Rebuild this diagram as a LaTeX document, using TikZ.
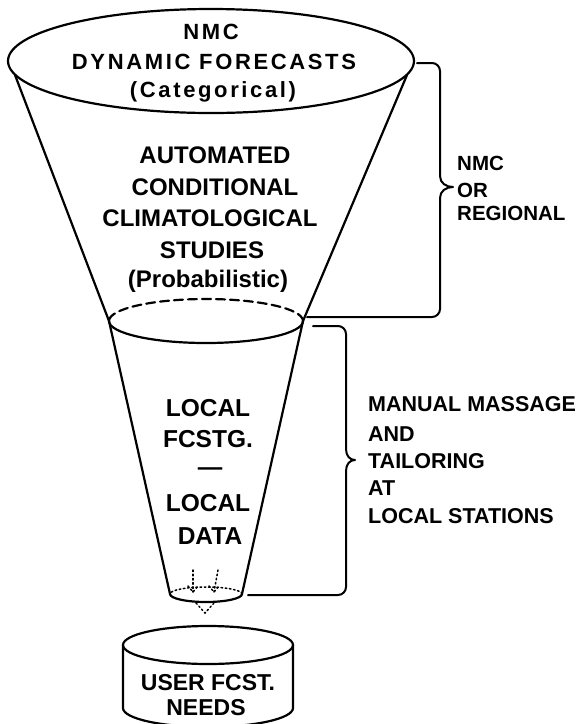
\documentclass[tikz,border=0pt]{standalone}
\usepackage{fontspec}
\setmainfont{Liberation Sans}
\begin{document}
\begin{tikzpicture}[x=1pt,y=1pt,
  outline/.style={line width=2.2pt, line join=round, line cap=round},
  brace/.style={line width=2pt, line join=round, line cap=round},
  dots/.style={line width=1.5pt, dash pattern=on 1.6pt off 2.6pt, line cap=round},
  toptext/.style={font=\bfseries\fontsize{22}{29}\selectfont\addfontfeature{LetterSpace=12}, inner sep=0pt, anchor=base},
  funtext/.style={font=\bfseries\fontsize{24}{31}\selectfont, inner sep=0pt, anchor=base},
  lowtext/.style={font=\bfseries\fontsize{24.5}{31}\selectfont, inner sep=0pt, anchor=base},
  sidetext/.style={font=\bfseries\fontsize{#1}{#1}\selectfont, inner sep=0pt, anchor=base west},
  cyltext/.style={font=\bfseries\fontsize{23}{25}\selectfont, inner sep=0pt, anchor=base}]
\useasboundingbox (0,0) rectangle (582,-724);

% funnel geometry
\coordinate (tl) at (15,-75);
\coordinate (tr) at (407,-75);
\coordinate (ml) at (109,-321);
\coordinate (mr) at (303,-321);
\coordinate (bl) at (170,-594);
\coordinate (br) at (242,-594);

% top ellipse
\draw[outline] (211,-61) ellipse [x radius=203, y radius=52];
% cone sides
\draw[outline] (tl) -- (ml) -- (bl);
\draw[outline] (tr) -- (mr) -- (br);
% middle ellipse
\draw[outline, dash pattern=on 9pt off 5pt] (mr) arc [start angle=0, end angle=180, x radius=97, y radius=22];
\draw[outline] (ml) arc [start angle=180, end angle=360, x radius=97, y radius=22];
% small ellipse
\draw[dots] (br) arc [start angle=0, end angle=180, x radius=36, y radius=7];
\draw[outline] (bl) arc [start angle=180, end angle=360, x radius=36, y radius=8];

% dotted flow marks
\coordinate (d1a) at (193,-570);
\coordinate (d1b) at (193,-592);
\coordinate (d2a) at (218,-570);
\coordinate (d2b) at (214,-592);
\draw[dots] (d1a) -- (d1b);
\draw[dots] (188,-586) -- (d1b) -- (198,-586);
\draw[dots] (d2a) -- (d2b);
\draw[dots] (209,-586) -- (d2b) -- (219,-586);
\coordinate (vtip) at (205,-613);
\draw[dots] (196,-603) -- (vtip) -- (214,-603);

% cylinder
\draw[outline] (208,-645) ellipse [x radius=85, y radius=19];
\draw[outline] (123,-645) -- (123,-708) arc [start angle=180, end angle=360, x radius=85, y radius=19] -- (293,-645);

% braces
\coordinate (b1s) at (417,-63);
\coordinate (b1tip) at (453,-187);
\coordinate (b1e) at (307,-317);
\draw[brace] (b1s) -- (432,-63) to[out=0,in=90] (440,-71) -- (440,-176)
  .. controls (440,-183) and (446,-187) .. (b1tip)
  .. controls (446,-187) and (440,-191) .. (440,-198)
  -- (440,-309) to[out=-90,in=0] (432,-317) -- (b1e);
\coordinate (b2s) at (313,-326);
\coordinate (b2tip) at (355,-460);
\coordinate (b2e) at (248,-595);
\draw[brace] (b2s) -- (338,-326) to[out=0,in=90] (346,-334) -- (346,-449)
  .. controls (346,-456) and (350,-460) .. (b2tip)
  .. controls (350,-460) and (346,-464) .. (346,-471)
  -- (346,-587) to[out=-90,in=0] (338,-595) -- (b2e);

% top ellipse text
\node[toptext] (t1) at (211,-39) {NMC};
\node[toptext] (t2) at (214,-69) {DYNAMIC FORECASTS};
\node[toptext] (t3) at (213,-97) {(Categorical)};

% upper funnel text
\node[funtext] (u1) at (215,-163.6) {AUTOMATED};
\node[funtext] (u2) at (215,-195.6) {CONDITIONAL};
\node[funtext] (u3) at (210,-226.6) {CLIMATOLOGICAL};
\node[funtext] (u4) at (212,-258.6) {STUDIES};
\node[funtext] (u5) at (208,-287) {(Probabilistic)};

% lower funnel text
\node[lowtext] (l1) at (208,-416) {LOCAL};
\node[lowtext] (l2) at (208,-447) {FCSTG.};
\node[lowtext] (l3) at (210,-475) {—};
\node[lowtext] (l4) at (208,-511) {LOCAL};
\node[lowtext] (l5) at (210,-544) {DATA};

% side labels
\node[sidetext=20.5] (s1) at (457,-170.5) {NMC};
\node[sidetext=20.5] (s2) at (457,-197.5) {OR};
\node[sidetext=20.5] (s3) at (457,-220.5) {REGIONAL};
\node[sidetext=21.5] (m1) at (368,-411) {MANUAL MASSAGE};
\node[sidetext=21.5] (m2) at (368,-441) {AND};
\node[sidetext=21.5] (m3) at (368,-468) {TAILORING};
\node[sidetext=21.5] (m4) at (368,-495) {AT};
\node[sidetext=21.5] (m5) at (368,-523) {LOCAL STATIONS};

% cylinder text
\node[cyltext] (c1) at (208,-690.5) {USER FCST.};
\node[cyltext] (c2) at (206,-715.5) {NEEDS};
\end{tikzpicture}
\end{document}
